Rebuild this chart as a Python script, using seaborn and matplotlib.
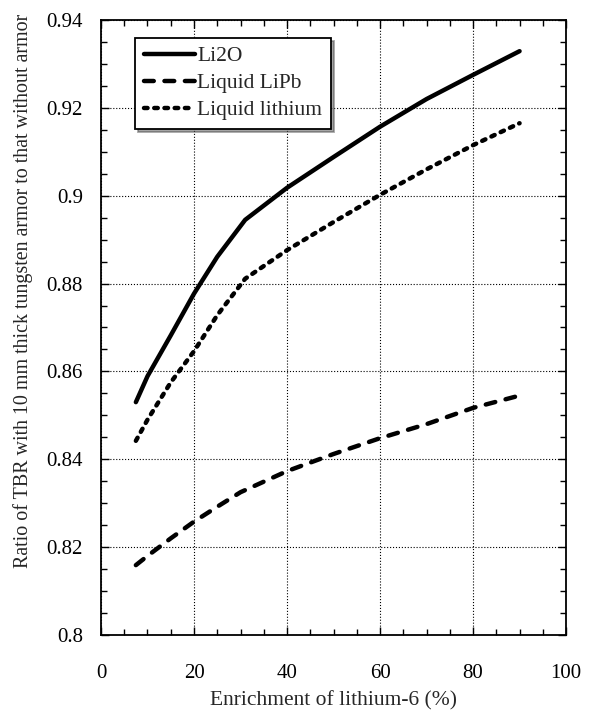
import numpy as np
import pandas as pd
import matplotlib
matplotlib.use("Agg")
import matplotlib.pyplot as plt
from matplotlib.ticker import MultipleLocator, FormatStrFormatter
import seaborn as sns

# values
enrich_li2o = [7.5, 10, 15, 20, 25, 31, 40, 50, 60, 70, 80, 90]
ratio_li2o = [0.853, 0.8589, 0.8682, 0.8777, 0.8861, 0.8945, 0.9018, 0.9088, 0.9157, 0.922, 0.9275, 0.9329]

enrich_lipb = [7.5, 10, 15, 20, 25, 30, 40, 50, 60, 70, 80, 90]
ratio_lipb = [0.8159, 0.818, 0.822, 0.8258, 0.8292, 0.8325, 0.8373, 0.8412, 0.8448, 0.848, 0.8517, 0.8545]

enrich_li = [7.5, 10, 15, 20, 25, 31, 40, 50, 60, 70, 80, 90]
ratio_li = [0.8442, 0.849, 0.8575, 0.8646, 0.8728, 0.8811, 0.8876, 0.894, 0.9002, 0.906, 0.9115, 0.9165]

names = ["Li2O", "Liquid LiPb", "Liquid lithium"]

df = pd.concat([
    pd.DataFrame({"x": enrich_li2o, "y": ratio_li2o, "Material": names[0]}),
    pd.DataFrame({"x": enrich_lipb, "y": ratio_lipb, "Material": names[1]}),
    pd.DataFrame({"x": enrich_li, "y": ratio_li, "Material": names[2]}),
])

sns.set_style("ticks")
plt.rcParams['font.family'] = ['Liberation Serif', 'DejaVu Serif']
plt.rcParams['font.size'] = 15

fig = plt.figure(figsize=(5.94, 7.11), dpi=100)
ax = fig.add_axes([0.170, 0.1069, 0.783, 0.865])

sns.lineplot(data=df, x="x", y="y", hue="Material", style="Material",
             palette=["black"] * 3,
             dashes={names[0]: "", names[1]: (2.2, 2.4), names[2]: (0.8, 1.5)},
             linewidth=3.2, ax=ax, sort=False)
for ln in ax.lines:
    ln.set_dash_capstyle("round")
    ln.set_solid_capstyle("round")

ax.set_xlim(0, 100)
ax.set_ylim(0.8, 0.94)
ax.xaxis.set_major_locator(MultipleLocator(20))
ax.xaxis.set_minor_locator(MultipleLocator(5))
ax.yaxis.set_major_locator(MultipleLocator(0.02))
ax.yaxis.set_minor_locator(MultipleLocator(0.005))
ax.yaxis.set_major_formatter(FormatStrFormatter('%g'))
ax.tick_params(which="both", direction="in", top=True, right=True,
               colors="black", labelsize=15, width=1)
ax.tick_params(which="major", length=6)
ax.tick_params(which="minor", length=4)
ax.tick_params(axis="y", which="major", pad=13)
ax.tick_params(axis="x", which="major", pad=21)
ax.grid(True, which="major", linestyle=":", color="black", linewidth=0.8)
for sp in ax.spines.values():
    sp.set_color("black")
    sp.set_linewidth(1.3)

ax.set_xlabel("Enrichment of lithium-6 (%)", fontsize=15.5, labelpad=6)
ax.set_ylabel("Ratio of TBR with 10 mm thick tungsten armor to that without armor",
              fontsize=14.4)
ax.yaxis.set_label_coords(-0.146, 0.56)

leg = ax.legend(loc="upper left", bbox_to_anchor=(0.073, 0.971), borderaxespad=0,
                fontsize=15.5, frameon=True, fancybox=False, shadow=True,
                edgecolor="black", handlelength=2.4, handletextpad=0.1,
                labelspacing=0.32, borderpad=0.4, title=None)
leg.get_frame().set_linewidth(1.3)

fig.savefig("out.png", dpi=100)
